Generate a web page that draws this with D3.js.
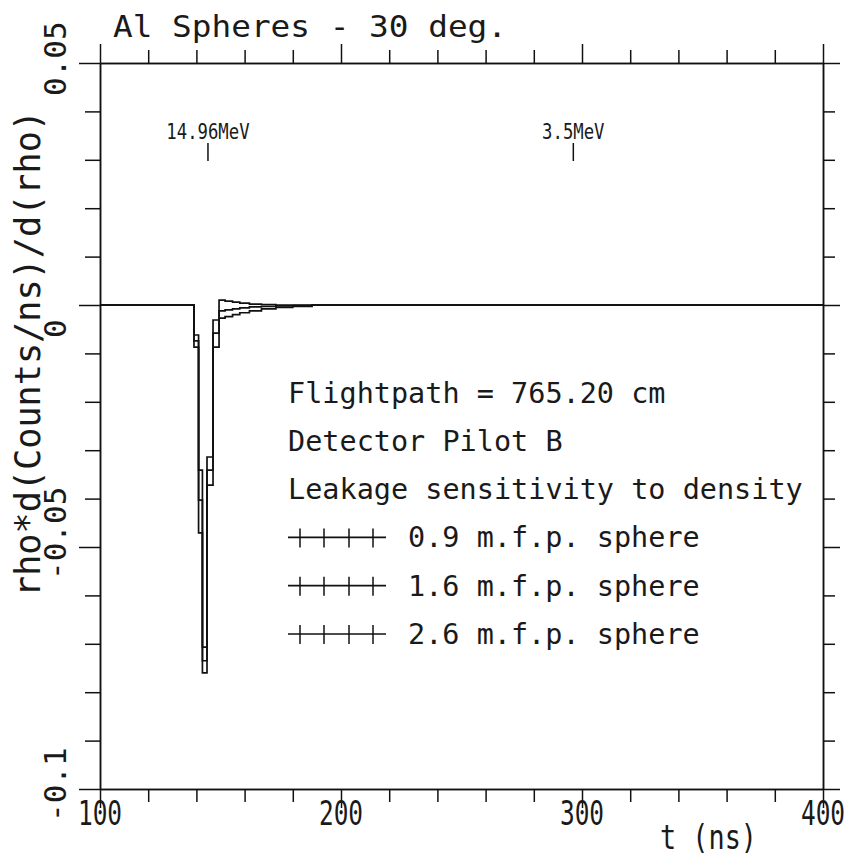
<!DOCTYPE html>
<html><head><meta charset="utf-8">
<script src="https://cdn.jsdelivr.net/npm/d3@7"></script>
<style>
body{margin:0;background:#fff}
svg{display:block}
text{font-family:"DejaVu Sans Mono",monospace;fill:#1a1a1a}
</style>
</head><body>
<svg id="c" width="848" height="863"></svg>
<script>
// ---- data ----
const title = "Al Spheres - 30 deg.";
const xLabel = "t (ns)";
const yLabel = "rho*d(Counts/ns)/d(rho)";
const xMajorTicks = [100, 200, 300, 400];
const xTickLabels = ["100", "200", "300", "400"];
const xMinorTicks = [120, 140, 160, 180, 220, 240, 260, 280, 320, 340, 360, 380];
const yMajorTicks = [0.05, 0, -0.05, -0.1];
const yTickLabels = ["0.05", "0", "-0.05", "-0.1"];
const yMinorTicks = [0.04, 0.03, 0.02, 0.01, -0.01, -0.02, -0.03, -0.04, -0.06, -0.07, -0.08, -0.09];
const markerT = [144.8, 296.4];
const markerLabels = ["14.96MeV", "3.5MeV"];
const infoLines = ["Flightpath = 765.20 cm", "Detector Pilot B", "Leakage sensitivity to density"];
const seriesNames = ["0.9 m.f.p. sphere", "1.6 m.f.p. sphere", "2.6 m.f.p. sphere"];
// histogram bin edges (ns)
const binEdges = [100, 139.0, 140.9, 142.5, 144.4, 146.9, 149.4, 151.9, 155, 158, 162, 167, 173, 180, 188, 400];
const s09 = [0, -0.0062, -0.0341, -0.0707, -0.0314, -0.0031, 0.0010, 0.0008, 0.0006, 0.0004, 0.0002, 0.0001, 0, 0, 0];
const s16 = [0, -0.0074, -0.0403, -0.0735, -0.0341, -0.0058, -0.0012, -0.0010, -0.0008, -0.0006, -0.0004, -0.0003, -0.0002, -0.0001, 0];
const s26 = [0, -0.0087, -0.0471, -0.0760, -0.0372, -0.0087, -0.0027, -0.0024, -0.0020, -0.0016, -0.0012, -0.0008, -0.0005, -0.0003, 0];
const seriesValues = [s09, s16, s26];

// ---- layout ----
const svg = d3.select("#c");
svg.append("rect").attr("width", 848).attr("height", 863).attr("fill", "#fff");
const x = d3.scaleLinear().domain([100, 400]).range([100, 823]);
const y = d3.scaleLinear().domain([-0.1, 0.05]).range([789, 63]);
const L = 100, R = 823, T = 63, B = 789;
const MAJ = 19, MIN = 13;

function drawAxis(axisFn, scale, vals, size, transform) {
  const g = svg.append("g").attr("transform", transform)
    .call(axisFn(scale).tickValues(vals).tickSize(size).tickSizeOuter(0).tickFormat(""));
  g.selectAll("path,line").attr("stroke", "#111").attr("stroke-width", 1.5);
  g.selectAll("text").remove();
  return g;
}
drawAxis(d3.axisBottom, x, xMinorTicks, MIN, `translate(0,${B})`);
drawAxis(d3.axisBottom, x, xMajorTicks, MAJ, `translate(0,${B})`);
drawAxis(d3.axisTop, x, xMinorTicks, MIN, `translate(0,${T})`);
drawAxis(d3.axisTop, x, xMajorTicks, MAJ, `translate(0,${T})`);
drawAxis(d3.axisLeft, y, yMinorTicks, MIN + 2, `translate(${L},0)`);
drawAxis(d3.axisLeft, y, yMajorTicks, MAJ + 2, `translate(${L},0)`);
drawAxis(d3.axisRight, y, yMinorTicks, MIN - 1, `translate(${R},0)`);
drawAxis(d3.axisRight, y, yMajorTicks, MAJ - 2, `translate(${R},0)`);

// x tick labels (horizontally condensed)
svg.append("g").selectAll("text").data(xMajorTicks).join("text")
  .attr("transform", d => `translate(${x(d)},825) scale(0.72,1)`)
  .attr("text-anchor", "middle")
  .attr("font-size", 34)
  .text((d, i) => xTickLabels[i]);

// y tick labels (rotated)
svg.append("g").selectAll("text").data(yMajorTicks).join("text")
  .attr("transform", d => `translate(66,${y(d) + 33}) rotate(-90)`)
  .attr("text-anchor", "start")
  .attr("font-size", 31)
  .text((d, i) => yTickLabels[i]);

// axis titles
svg.append("text").attr("x", 113).attr("y", 37)
  .attr("font-size", 31).attr("textLength", 394).attr("lengthAdjust", "spacingAndGlyphs")
  .text(title);
svg.append("text").attr("x", 660).attr("y", 849)
  .attr("font-size", 33).attr("textLength", 97).attr("lengthAdjust", "spacingAndGlyphs")
  .text(xLabel);
svg.append("text").attr("transform", "translate(40,597) rotate(-90)")
  .attr("font-size", 35).attr("textLength", 487).attr("lengthAdjust", "spacingAndGlyphs")
  .text(yLabel);

// energy markers
const mk = svg.append("g").selectAll("g").data(markerT).join("g");
mk.append("line").attr("x1", d => x(d)).attr("x2", d => x(d))
  .attr("y1", 143).attr("y2", 161).attr("stroke", "#111").attr("stroke-width", 1.5);
mk.append("text").attr("x", d => x(d)).attr("y", 139)
  .attr("text-anchor", "middle").attr("font-size", 22)
  .attr("textLength", (d, i) => markerLabels[i].length * 10.4)
  .attr("lengthAdjust", "spacingAndGlyphs")
  .text((d, i) => markerLabels[i]);

// series (step histograms)
const line = d3.line().x(d => x(d[0])).y(d => y(d[1])).curve(d3.curveStepAfter);
seriesValues.forEach(vals => {
  const pts = vals.map((v, i) => [binEdges[i], v]);
  pts.push([binEdges[binEdges.length - 1], vals[vals.length - 1]]);
  svg.append("path").datum(pts).attr("d", line)
    .attr("fill", "none").attr("stroke", "#111").attr("stroke-width", 1.7);
});

// legend
const rowY = i => 392.5 + i * 48.3;
infoLines.forEach((t, i) => {
  svg.append("text").attr("x", 288).attr("y", rowY(i) + 10)
    .attr("font-size", 28.5).text(t);
});
seriesNames.forEach((t, k) => {
  const cy = rowY(k + 3);
  const g = svg.append("g");
  g.append("line").attr("x1", 288).attr("x2", 386).attr("y1", cy).attr("y2", cy)
    .attr("stroke", "#111").attr("stroke-width", 1.7);
  [300, 324, 349, 373].forEach(px => {
    g.append("line").attr("x1", px).attr("x2", px).attr("y1", cy - 9).attr("y2", cy + 10)
      .attr("stroke", "#111").attr("stroke-width", 1.5);
  });
  g.append("text").attr("x", 408).attr("y", cy + 10).attr("font-size", 28.5).text(t);
});
</script>
</body></html>
